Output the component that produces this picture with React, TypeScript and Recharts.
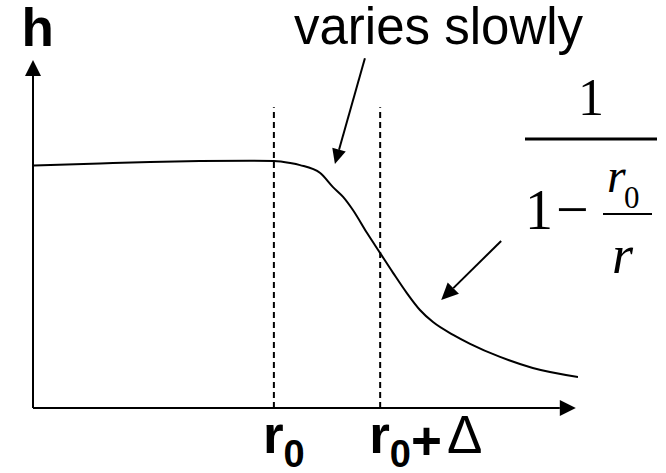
import { ComposedChart, Line, XAxis, YAxis, ReferenceLine } from 'recharts';

// curve (r along the axis, h up the axis, both 0..100)
const rValues = [0, 12.3, 21.5, 30.6, 39.8, 44.2, 47.2, 49.0, 52.7, 55.0, 56.9, 58.7, 61.3, 63.7, 66.1, 68.6, 71.0, 73.4, 77.1, 80.2, 85.7, 91.7, 100];
const hValues = [70.3, 70.9, 71.3, 71.6, 71.7, 71.6, 71.0, 70.4, 68.1, 64.1, 61.2, 57.4, 50.7, 44.9, 39.1, 33.3, 28.4, 24.9, 21.2, 18.6, 14.8, 11.6, 9.0];

const r0 = 44.2;
const r0Delta = 63.7;
const markerTop = 87.2;
const tickValues = [r0, r0Delta];
const tickLabels = [['r', '0'], ['r', '0', '+', 'Δ']];

const data = rValues.map((r, i) => ({ r, h: hValues[i] }));

const SANS = 'Liberation Sans, Arial, sans-serif';
const SERIF = 'Liberation Serif, Times New Roman, serif';

const arrowShape = (head: number, half: number) => (props: any) => {
  const { x1, y1, x2, y2 } = props;
  const a = Math.atan2(y2 - y1, x2 - x1);
  const bx = x2 - head * Math.cos(a);
  const by = y2 - head * Math.sin(a);
  const px = -Math.sin(a) * half;
  const py = Math.cos(a) * half;
  return (
    <g>
      <line x1={x1} y1={y1} x2={bx} y2={by} stroke="#000" strokeWidth={2} />
      <polygon points={`${x2},${y2} ${bx + px},${by + py} ${bx - px},${by - py}`} fill="#000" />
    </g>
  );
};

const RTick = (props: any) => {
  const { x, y, payload } = props;
  const idx = tickValues.indexOf(payload.value);
  const parts = tickLabels[idx] || [];
  return (
    <text x={x - 11} y={y + 45} fontFamily={SANS} fontWeight="bold" fontSize={53} fill="#000">
      {parts[0]}
      <tspan dy={14} fontSize={38}>{parts[1]}</tspan>
      {parts[2] && <tspan dy={-8}>{parts[2]}</tspan>}
      {parts[3] && <tspan dy={-6} dx={5} fontWeight="normal">{parts[3]}</tspan>}
    </text>
  );
};

export default function App() {
  return (
    <div style={{ position: 'absolute', left: 0, top: 0, background: '#fff' }}>
      <ComposedChart width={666} height={473} data={data} margin={{ top: 63, right: 88, bottom: 0, left: 33 }}>
        <XAxis
          type="number"
          dataKey="r"
          domain={[0, 100]}
          ticks={tickValues}
          tick={<RTick />}
          axisLine={false}
          tickLine={false}
          tickSize={0}
          tickMargin={0}
          height={65}
          allowDataOverflow
        />
        <YAxis type="number" domain={[0, 100]} hide allowDataOverflow />

        {/* axes with arrow heads */}
        <ReferenceLine segment={[{ x: 0, y: 0 }, { x: 0, y: 100.9 }]} ifOverflow="visible" shape={arrowShape(16, 8)} />
        <ReferenceLine segment={[{ x: 0, y: 0 }, { x: 99.6, y: 0 }]} ifOverflow="visible" shape={arrowShape(16, 8)} />

        {/* dashed markers at r0 and r0 + delta */}
        <ReferenceLine segment={[{ x: r0, y: 0 }, { x: r0, y: markerTop }]} stroke="#000" strokeWidth={2} strokeDasharray="6 4" ifOverflow="visible" />
        <ReferenceLine segment={[{ x: r0Delta, y: 0 }, { x: r0Delta, y: markerTop }]} stroke="#000" strokeWidth={2} strokeDasharray="6 4" ifOverflow="visible" />

        <Line type="monotone" dataKey="h" stroke="#000" strokeWidth={2} dot={false} isAnimationActive={false} />

        {/* pointer arrows */}
        <ReferenceLine segment={[{ x: 60.9, y: 101.4 }, { x: 55.4, y: 70.7 }]} ifOverflow="visible" shape={arrowShape(15, 7)} />
        <ReferenceLine segment={[{ x: 85.9, y: 48.4 }, { x: 74.9, y: 31.3 }]} ifOverflow="visible" shape={arrowShape(17, 8)} />

        <text x={21.5} y={46} fontFamily={SANS} fontWeight="bold" fontSize={53} fill="#000">h</text>
        <text x={294} y={44} fontFamily={SANS} fontSize={51} fill="#000">varies slowly</text>

        {/* 1 / (1 - r0/r) */}
        <text x={591} y={115} textAnchor="middle" fontFamily={SERIF} fontSize={52} fill="#000">1</text>
        <line x1={525} y1={139} x2={657} y2={139} stroke="#000" strokeWidth={3} />
        <text x={539} y={229} textAnchor="middle" fontFamily={SERIF} fontSize={56} fill="#000">1</text>
        <text x={556} y={229} fontFamily={SERIF} fontSize={58} fill="#000">−</text>
        <text x={607} y={192} fontFamily={SERIF} fontStyle="italic" fontSize={48} fill="#000">r</text>
        <text x={624} y={208} fontFamily={SERIF} fontSize={31} fill="#000">0</text>
        <line x1={603} y1={214} x2={652} y2={214} stroke="#000" strokeWidth={2} />
        <text x={612} y={273} fontFamily={SERIF} fontStyle="italic" fontSize={54} fill="#000">r</text>
      </ComposedChart>
    </div>
  );
}
